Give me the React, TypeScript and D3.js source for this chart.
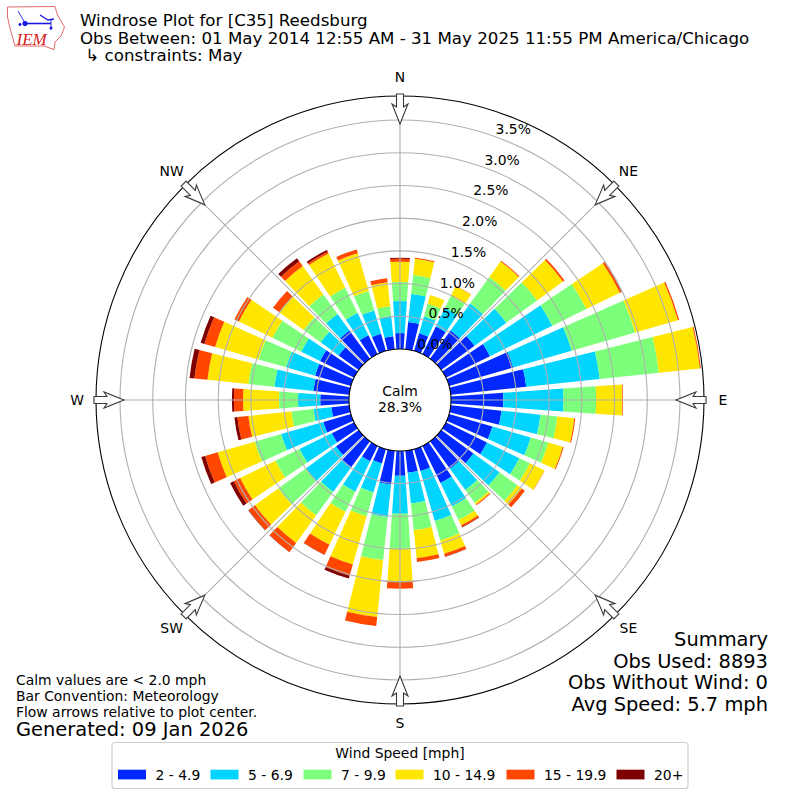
import React, { useEffect, useRef } from 'react';
import * as d3 from 'd3';

const directions = d3.range(0, 360, 10);

// percent of observations per 10 degree direction bin, starting at north
const speed2to5 = [0.245, 0.42, 0.28, 0.47, 0.535, 0.63, 0.75, 1.02, 1.16, 0.8, 0.78, 0.69, 0.7, 0.61, 0.52, 0.63, 0.35, 0.34, 0.38, 0.52, 0.23, 0.26, 0.49, 0.43, 0.38, 0.44, 0.275, 0.44, 0.55, 0.57, 0.58, 0.38, 0.535, 0.32, 0.275, 0.2];
const speed5to7 = [0.49, 0.43, 0.27, 0.32, 0.51, 0.6, 1.06, 0.93, 1.13, 0.92, 0.6, 0.61, 0.55, 0.49, 0.4, 0.4, 0.795, 0.47, 0.58, 0.5, 0.46, 0.52, 0.47, 0.57, 0.55, 0.67, 0.275, 0.34, 0.6, 0.46, 0.32, 0.34, 0.31, 0.38, 0.37, 0.31];
const speed7to10 = [0.29, 0.29, 0.2, 0.2, 0.5, 0.58, 0.58, 1.01, 0.91, 0.5, 0.26, 0.28, 0.18, 0.34, 0.245, 0.23, 0.31, 0.41, 0.535, 0.66, 0.38, 0.34, 0.44, 0.52, 0.41, 0.42, 0.34, 0.29, 0.4, 0.44, 0.49, 0.32, 0.37, 0.43, 0.31, 0.15];
const speed10to15 = [0.31, 0.25, 0.14, 0.17, 0.29, 0.49, 0.57, 0.68, 0.63, 0.4, 0.26, 0.23, 0.245, 0.08, 0.03, 0.09, 0.21, 0.43, 0.505, 0.875, 0.765, 0.56, 0.52, 0.44, 0.6, 0.59, 0.66, 0.55, 0.63, 0.69, 0.57, 0.46, 0.535, 0.58, 0.6, 0.37];
const speed15to20 = [0.046, 0.015, 0, 0.005, 0.015, 0.03, 0.03, 0.02, 0.015, 0.01, 0.015, 0.015, 0.005, 0.06, 0.015, 0.03, 0.045, 0.06, 0.105, 0.14, 0.18, 0.17, 0.17, 0.12, 0.11, 0.2, 0.17, 0.14, 0.2, 0.17, 0.075, 0.12, 0.09, 0.03, 0.06, 0.06];
const speed20plus = [0.015, 0, 0, 0, 0, 0, 0.005, 0, 0, 0, 0, 0, 0, 0, 0, 0.008, 0.005, 0, 0, 0, 0.045, 0.005, 0.005, 0.008, 0.06, 0.06, 0.045, 0.03, 0.075, 0.06, 0, 0, 0.06, 0.03, 0, 0];

const series = [speed2to5, speed5to7, speed7to10, speed10to15, speed15to20, speed20plus];
const speedLabels = ['2 - 4.9', '5 - 6.9', '7 - 9.9', '10 - 14.9', '15 - 19.9', '20+'];
const speedColors = ['#0028ff', '#00d4ff', '#7cff7a', '#ffe600', '#ff4700', '#7f0000'];
const legendSwatchX = [118, 210.5, 303.5, 395.5, 506.5, 616.5];

const radialTicks = [0, 0.5, 1, 1.5, 2, 2.5, 3, 3.5];
const compass = ['N', 'NE', 'E', 'SE', 'S', 'SW', 'W', 'NW'];

const titleLines = [
  'Windrose Plot for [C35] Reedsburg',
  'Obs Between: 01 May 2014 12:55 AM - 31 May 2025 11:55 PM America/Chicago',
  ' ↳ constraints: May',
];
const summaryLines = ['Summary', 'Obs Used: 8893', 'Obs Without Wind: 0', 'Avg Speed: 5.7 mph'];
const noteLines = ['Calm values are < 2.0 mph', 'Bar Convention: Meteorology', 'Flow arrows relative to plot center.'];

const FONT = '"DejaVu Sans", sans-serif';

const App: React.FC = () => {
  const svgRef = useRef<SVGSVGElement>(null);

  useEffect(() => {
    if (!svgRef.current) return;
    const svg = d3.select(svgRef.current);
    svg.selectAll('*').remove();
    svg.attr('font-family', FONT);

    const cx = 400;
    const cy = 400;
    const outerR = 304;
    const holeR = 51;
    const rScale = d3.scaleLinear().domain([0, 3.5]).range([holeR, 280]);
    const angle = d3.scaleLinear().domain([0, 360]).range([0, Math.PI * 2]);
    const barWidth = 8;

    const plot = svg.append('g').attr('transform', `translate(${cx},${cy})`);

    // Stacked bars
    const arc = d3.arc<{ dir: number; lo: number; hi: number }>()
      .innerRadius(d => rScale(d.lo))
      .outerRadius(d => rScale(d.hi))
      .startAngle(d => angle(d.dir - barWidth / 2))
      .endAngle(d => angle(d.dir + barWidth / 2));

    directions.forEach((dir, i) => {
      let total = 0;
      series.forEach((values, s) => {
        const v = values[i];
        if (v <= 0) return;
        plot.append('path')
          .attr('d', arc({ dir, lo: total, hi: total + v }))
          .attr('fill', speedColors[s]);
        total += v;
      });
    });

    // Grid
    radialTicks.slice(1).forEach(t => {
      plot.append('circle')
        .attr('r', rScale(t))
        .attr('fill', 'none')
        .attr('stroke', '#b0b0b0')
        .attr('stroke-width', 1.1);
    });
    compass.forEach((_, i) => {
      const a = angle(i * 45);
      plot.append('line')
        .attr('x1', Math.sin(a) * holeR)
        .attr('y1', -Math.cos(a) * holeR)
        .attr('x2', Math.sin(a) * outerR)
        .attr('y2', -Math.cos(a) * outerR)
        .attr('stroke', '#b0b0b0')
        .attr('stroke-width', 1.1);
    });

    plot.append('circle').attr('r', outerR).attr('fill', 'none').attr('stroke', '#000').attr('stroke-width', 1.1);
    plot.append('circle').attr('r', holeR).attr('fill', '#fff').attr('stroke', '#000').attr('stroke-width', 1.1);

    // Radial tick labels
    radialTicks.forEach(t => {
      const a = angle(20);
      plot.append('text')
        .attr('x', Math.sin(a) * rScale(t) + 17.5)
        .attr('y', -Math.cos(a) * rScale(t) - 8)
        .attr('text-anchor', 'middle')
        .attr('dominant-baseline', 'central')
        .attr('font-size', 13.9)
        .text(`${t.toFixed(1)}%`);
    });

    // Flow arrows and compass labels
    const arrow = d3.line()([
      [-3.5, -306], [3.5, -306], [3.5, -293], [8, -296], [0, -276], [-8, -296], [-3.5, -293],
    ]) + 'Z';
    compass.forEach((label, i) => {
      const deg = i * 45;
      const a = angle(deg);
      plot.append('path')
        .attr('d', arrow)
        .attr('transform', `rotate(${deg})`)
        .attr('fill', '#fff')
        .attr('stroke', '#3a3a3a')
        .attr('stroke-width', 1.1);
      plot.append('text')
        .attr('x', Math.sin(a) * 323)
        .attr('y', -Math.cos(a) * 323 - 0.5)
        .attr('text-anchor', 'middle')
        .attr('dominant-baseline', 'central')
        .attr('font-size', 13.9)
        .text(label);
    });

    // Calm
    ['Calm', '28.3%'].forEach((t, i) => {
      plot.append('text')
        .attr('y', -9 + i * 16)
        .attr('text-anchor', 'middle')
        .attr('dominant-baseline', 'central')
        .attr('font-size', 13.9)
        .text(t);
    });

    // Title
    titleLines.forEach((t, i) => {
      svg.append('text')
        .attr('x', 80)
        .attr('y', 26 + i * 17.7)
        .attr('font-size', 16.67)
        .attr('xml:space', 'preserve')
        .style('white-space', 'pre')
        .text(t);
    });

    // Summary
    summaryLines.forEach((t, i) => {
      svg.append('text')
        .attr('x', 768)
        .attr('y', 646 + i * 21.7)
        .attr('text-anchor', 'end')
        .attr('font-size', 19.44)
        .text(t);
    });

    // Notes
    noteLines.forEach((t, i) => {
      svg.append('text')
        .attr('x', 16)
        .attr('y', 685 + i * 16)
        .attr('font-size', 13.9)
        .text(t);
    });
    svg.append('text')
      .attr('x', 16)
      .attr('y', 736)
      .attr('font-size', 19.44)
      .text('Generated: 09 Jan 2026');

    // Legend
    const legend = svg.append('g');
    legend.append('rect')
      .attr('x', 112).attr('y', 742.5).attr('width', 576).attr('height', 46).attr('rx', 3)
      .attr('fill', '#fff').attr('stroke', '#cccccc').attr('stroke-width', 1.1);
    legend.append('text')
      .attr('x', 400).attr('y', 753)
      .attr('text-anchor', 'middle')
      .attr('dominant-baseline', 'central')
      .attr('font-size', 13.9)
      .text('Wind Speed [mph]');
    speedLabels.forEach((label, i) => {
      legend.append('rect')
        .attr('x', legendSwatchX[i]).attr('y', 769.7).attr('width', 28).attr('height', 9.7)
        .attr('fill', speedColors[i]);
      legend.append('text')
        .attr('x', legendSwatchX[i] + 37.5).attr('y', 774.5)
        .attr('dominant-baseline', 'central')
        .attr('font-size', 13.9)
        .text(label);
    });

    // IEM logo
    const logo = svg.append('g');
    logo.append('path')
      .attr('d', 'M7.5 7 L55 6.5 L57.5 15 L64.5 27 L61 36 L55 42 L54 49.5 L44 46 L15 46 L10 28 L7.5 17 Z')
      .attr('fill', '#fff').attr('stroke', '#e05a5a').attr('stroke-width', 0.9);
    logo.append('text')
      .attr('x', 16.5).attr('y', 44.5)
      .attr('font-family', '"Liberation Serif", serif')
      .attr('font-style', 'italic')
      .attr('font-size', 17)
      .attr('fill', '#d42020')
      .text('IEM');
    const barbs = logo.append('g').attr('stroke', '#1a1adf').attr('fill', '#1a1adf');
    barbs.append('path').attr('d', 'M25 23.5 L51 23.5').attr('stroke-width', 1.6);
    barbs.append('path').attr('d', 'M18 11 L25 23').attr('stroke-width', 0.9);
    barbs.append('path').attr('d', 'M40 15 L48 20 L54 19').attr('stroke-width', 1.4).attr('fill', 'none');
    barbs.append('path').attr('d', 'M51 20 L51 30').attr('stroke-width', 0.9);
    barbs.append('circle').attr('cx', 25).attr('cy', 23.5).attr('r', 2.2);
    barbs.append('circle').attr('cx', 20).attr('cy', 24.5).attr('r', 1.1);
    barbs.append('circle').attr('cx', 51).attr('cy', 28).attr('r', 1.1);
  }, []);

  return (
    <svg
      ref={svgRef}
      width="800"
      height="800"
      style={{ position: 'absolute', left: 0, top: 0, background: '#fff' }}
    />
  );
};

export default App;
